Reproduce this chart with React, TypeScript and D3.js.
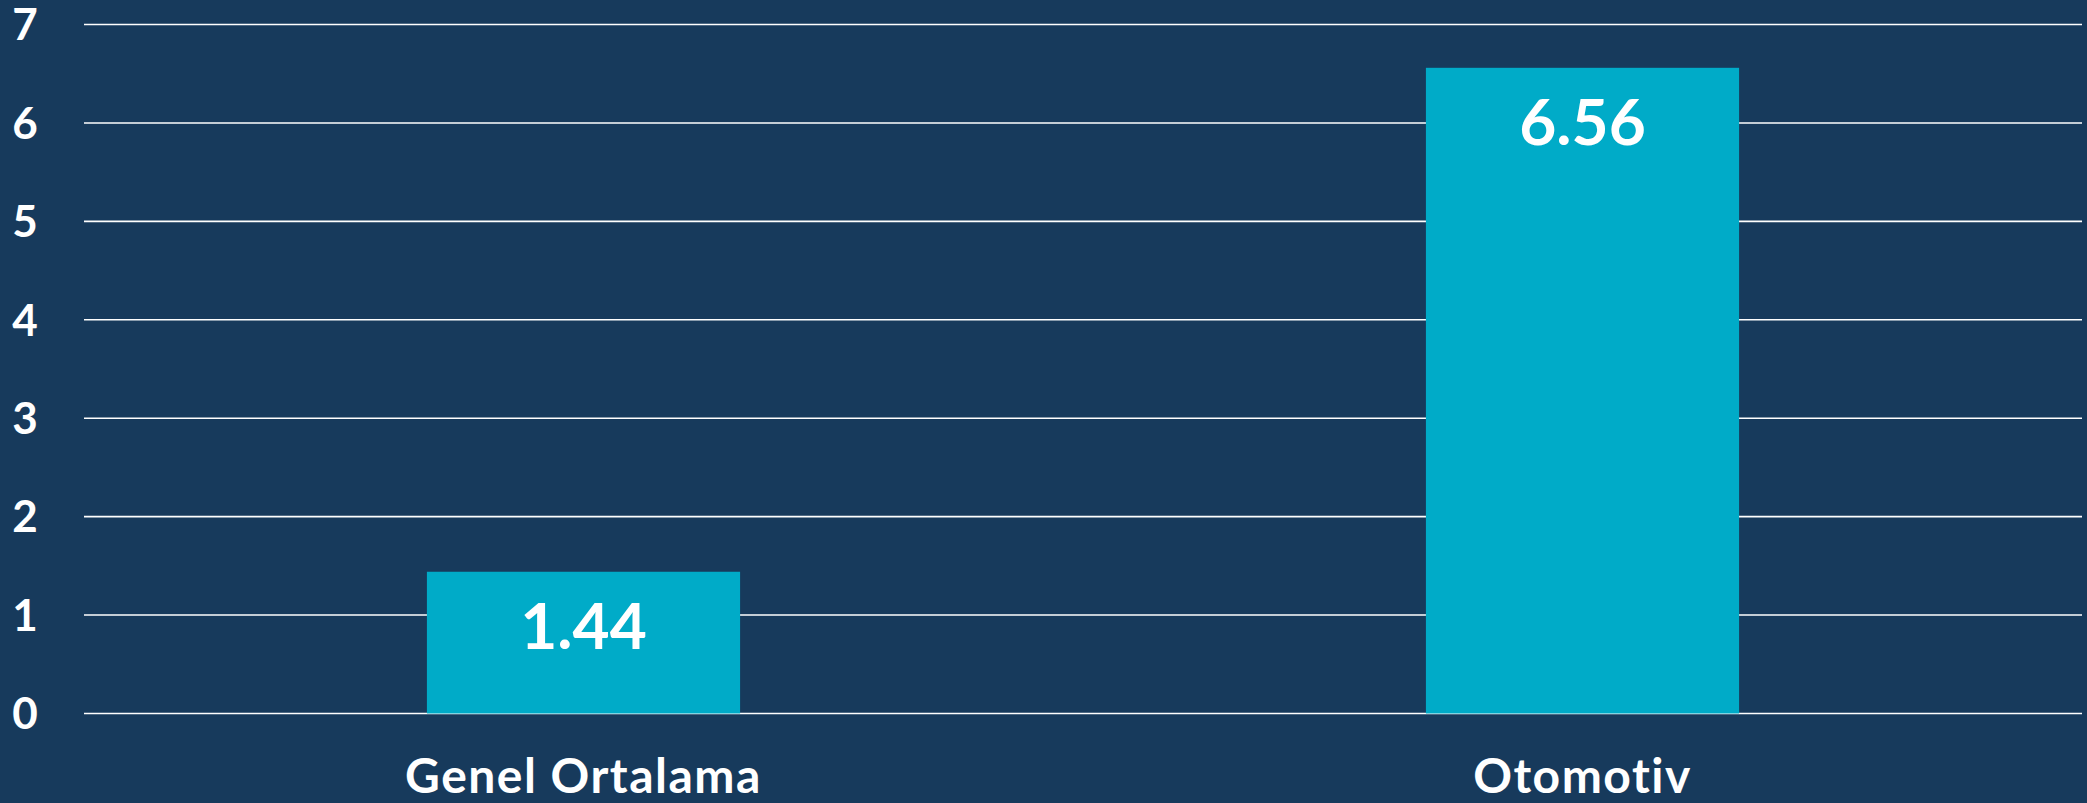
import React from "react";
import * as d3 from "d3";

const categories: string[] = ["Genel Ortalama", "Otomotiv"];
const values: number[] = [1.44, 6.56];
const valueLabels: string[] = ["1.44", "6.56"];
const yTicks: number[] = [0, 1, 2, 3, 4, 5, 6, 7];

const W = 2087;
const H = 803;
const BG = "#173a5c";
const BAR = "#00abc8";
const FONT = "Lato, 'Noto Sans', sans-serif";

export default function App() {
  const left = 84;
  const right = 2082;
  const y = d3.scaleLinear().domain([0, 7]).range([713.5, 24.5]);
  const x = d3.scaleBand<string>().domain(categories).range([left, right]).padding(0);
  const barW = x.bandwidth() * 0.3135;

  return (
    <svg
      width={W}
      height={H}
      style={{ position: "absolute", left: 0, top: 0, display: "block" }}
    >
      <rect x={0} y={0} width={W} height={H} fill={BG} />
      {yTicks.map((t) => (
        <g key={t}>
          <line x1={left} x2={right} y1={y(t)} y2={y(t)} stroke="#ffffff" strokeWidth={1.6} />
          <text
            x={25}
            y={y(t)}
            dy="0.36em"
            textAnchor="middle"
            fill="#ffffff"
            fontFamily={FONT}
            fontWeight={700}
            fontSize={44}
          >
            {t}
          </text>
        </g>
      ))}
      {categories.map((c, i) => {
        const cx = (x(c) as number) + x.bandwidth() / 2;
        const top = y(values[i]);
        return (
          <g key={c}>
            <rect x={cx - barW / 2} y={top} width={barW} height={y(0) - top} fill={BAR} />
            <text
              x={cx}
              y={top + 77}
              textAnchor="middle"
              fill="#ffffff"
              fontFamily={FONT}
              fontWeight={700}
              fontSize={64}
            >
              {valueLabels[i]}
            </text>
            <text
              x={cx}
              y={793}
              textAnchor="middle"
              fill="#ffffff"
              fontFamily={FONT}
              fontWeight={700}
              fontSize={48}
              letterSpacing={1.5}
            >
              {c}
            </text>
          </g>
        );
      })}
    </svg>
  );
}
